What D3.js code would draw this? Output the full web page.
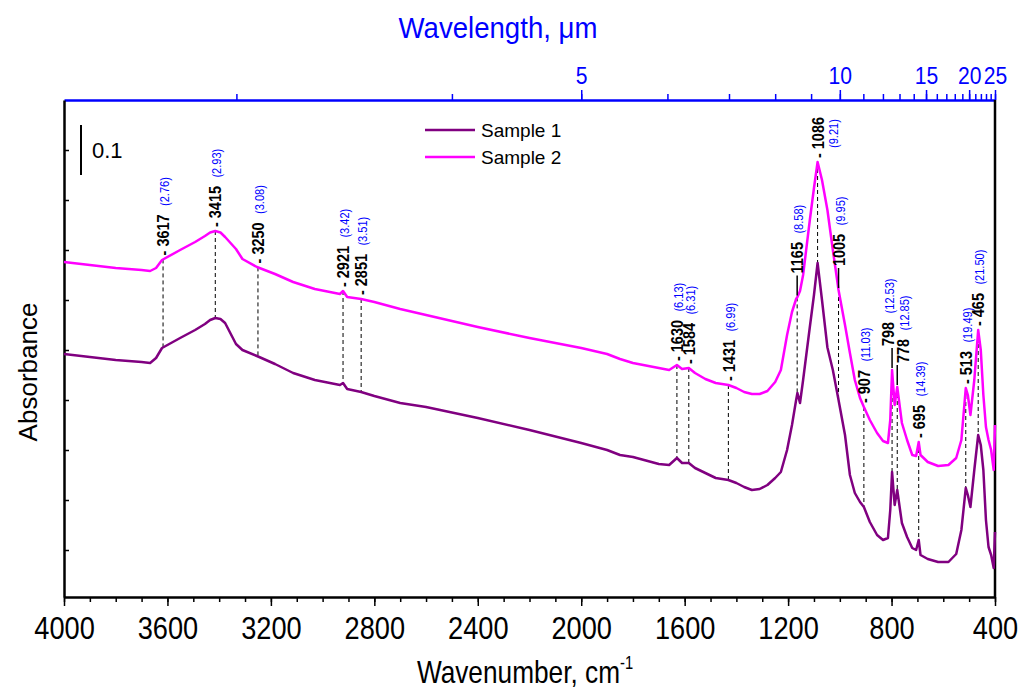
<!DOCTYPE html>
<html>
<head>
<meta charset="utf-8">
<script src="https://cdn.jsdelivr.net/npm/d3@7"></script>
<style>
  body { margin: 0; background: #fff; }
  text { font-family: "Liberation Sans", Arial, sans-serif; }
</style>
</head>
<body>
<svg id="chart" width="1019" height="690"></svg>
<script>
// ---- data ----
var wavenumbers = [4000, 3900, 3800, 3700, 3667, 3644, 3621, 3551, 3493, 3455, 3435, 3415, 3395, 3377, 3335, 3310, 3254, 3184, 3114, 3030, 2933, 2921, 2905, 2851, 2800, 2700, 2600, 2400, 2200, 2000, 1900, 1850, 1800, 1700, 1660, 1630, 1610, 1584, 1560, 1520, 1480, 1431, 1400, 1370, 1340, 1310, 1280, 1250, 1228, 1204, 1185, 1169, 1164, 1154, 1142, 1116, 1100, 1086, 1069, 1048, 1027, 1005, 980, 961, 942, 922, 907, 884, 856, 833, 814, 805, 798, 788, 778, 760, 740, 720, 705, 695, 688, 660, 620, 580, 550, 530, 513, 505, 495, 480, 465, 455, 445, 435, 425, 415, 405, 400];

var sample1 = [0.492, 0.486, 0.480, 0.476, 0.474, 0.484, 0.504, 0.524, 0.540, 0.552, 0.560, 0.564, 0.562, 0.554, 0.512, 0.500, 0.488, 0.472, 0.454, 0.440, 0.430, 0.434, 0.422, 0.416, 0.408, 0.394, 0.386, 0.364, 0.340, 0.314, 0.300, 0.290, 0.286, 0.272, 0.270, 0.284, 0.274, 0.274, 0.264, 0.254, 0.244, 0.240, 0.234, 0.226, 0.220, 0.222, 0.230, 0.244, 0.256, 0.300, 0.350, 0.400, 0.414, 0.394, 0.440, 0.546, 0.610, 0.674, 0.600, 0.505, 0.460, 0.400, 0.330, 0.250, 0.214, 0.196, 0.186, 0.156, 0.130, 0.120, 0.124, 0.180, 0.256, 0.190, 0.220, 0.154, 0.126, 0.104, 0.100, 0.120, 0.090, 0.082, 0.076, 0.076, 0.092, 0.140, 0.224, 0.210, 0.186, 0.260, 0.330, 0.310, 0.260, 0.160, 0.106, 0.090, 0.064, 0.136];

var sample2 = [0.676, 0.670, 0.664, 0.660, 0.658, 0.664, 0.680, 0.700, 0.716, 0.728, 0.735, 0.738, 0.735, 0.726, 0.702, 0.682, 0.666, 0.652, 0.636, 0.622, 0.612, 0.618, 0.606, 0.602, 0.596, 0.582, 0.570, 0.546, 0.524, 0.504, 0.492, 0.482, 0.474, 0.464, 0.460, 0.470, 0.462, 0.464, 0.454, 0.442, 0.434, 0.430, 0.424, 0.416, 0.412, 0.412, 0.418, 0.436, 0.460, 0.530, 0.576, 0.602, 0.606, 0.618, 0.650, 0.760, 0.824, 0.876, 0.840, 0.780, 0.700, 0.620, 0.550, 0.494, 0.440, 0.404, 0.386, 0.360, 0.334, 0.318, 0.314, 0.360, 0.460, 0.390, 0.426, 0.354, 0.320, 0.290, 0.288, 0.316, 0.290, 0.276, 0.268, 0.270, 0.284, 0.320, 0.424, 0.410, 0.370, 0.440, 0.540, 0.500, 0.410, 0.346, 0.320, 0.300, 0.260, 0.350];

var seriesNames = ["Sample 1", "Sample 2"];
var seriesColors = ["#800080", "#ff00ff"];

// peak labels: wavenumber and wavelength (µm)
var peakWn = [3617, 3415, 3250, 2921, 2851, 1630, 1584, 1431, 1165, 1086, 1005, 907, 798, 778, 695, 513, 465];
var peakUm = ["2.76", "2.93", "3.08", "3.42", "3.51", "6.13", "6.31", "6.99", "8.58", "9.21", "9.95", "11.03", "12.53", "12.85", "14.39", "19.49", "21.50"];
var longLeader = [1165, 1005, 798, 778];
var labelShift = {798: -4, 778: 6};

var bottomMajor = [4000, 3600, 3200, 2800, 2400, 2000, 1600, 1200, 800, 400];
var topMajorUm = [5, 10, 15, 20, 25];
var yTicks = [0.1, 0.2, 0.3, 0.4, 0.5, 0.6, 0.7, 0.8, 0.9];

// ---- layout ----
var margin = {top: 100, right: 24, bottom: 93, left: 64},
    width = 1019 - margin.left - margin.right,
    height = 690 - margin.top - margin.bottom;

var svg = d3.select("#chart");
var g = svg.append("g").attr("transform", "translate(" + margin.left + "," + margin.top + ")");

var x = d3.scaleLinear().domain([4000, 400]).range([0, width]);
var y = d3.scaleLinear().domain([0.006, 1.0]).range([height, 0]);

// interpolators to find curve heights at peak positions
var at1 = d3.scaleLinear().domain(wavenumbers).range(sample1);
var at2 = d3.scaleLinear().domain(wavenumbers).range(sample2);

// bottom axis - minor then major
var minorWn = d3.range(4000, 399, -100);
g.append("g")
  .attr("transform", "translate(0," + height + ")")
  .call(d3.axisBottom(x).tickValues(minorWn).tickSize(5).tickFormat(""))
  .call(function(a) { a.select(".domain").remove(); a.selectAll("line").attr("stroke-width", 1.5); });

var xAxis = g.append("g")
  .attr("transform", "translate(0," + height + ")")
  .call(d3.axisBottom(x).tickValues(bottomMajor).tickSize(9).tickSizeOuter(0).tickPadding(4)
    .tickFormat(d3.format("d")));
xAxis.select(".domain").attr("stroke-width", 2.5);
xAxis.selectAll(".tick line").attr("stroke-width", 1.5);
xAxis.selectAll(".tick text")
  .attr("font-size", 32)
  .attr("fill", "#000")
  .attr("transform", "scale(0.85,1)")
  .attr("dy", "0.92em");

// top axis (wavelength in µm), same positions via 10000/um
var minorUm = d3.range(3, 26);
g.append("g")
  .call(d3.axisTop(x).tickValues(minorUm.map(function(u) { return 10000 / u; })).tickSize(6).tickFormat("").tickSizeOuter(0))
  .call(function(a) {
    a.select(".domain").attr("stroke", "#0000ff").attr("stroke-width", 2.5);
    a.selectAll("line").attr("stroke", "#0000ff").attr("stroke-width", 1.5);
  });

var topAxis = g.append("g")
  .call(d3.axisTop(x).tickValues(topMajorUm.map(function(u) { return 10000 / u; }))
    .tickSize(10).tickSizeOuter(0).tickPadding(6)
    .tickFormat(function(w) { return Math.round(10000 / w); }));
topAxis.select(".domain").remove();
topAxis.selectAll("line").attr("stroke", "#0000ff").attr("stroke-width", 1.5);
topAxis.selectAll("text")
  .attr("fill", "#0000ff")
  .attr("font-size", 24)
  .attr("transform", "scale(0.88,1)");

// left axis: inward ticks, no labels
var yAxis = g.append("g")
  .call(d3.axisLeft(y).tickValues(yTicks).tickSize(-5).tickSizeOuter(0).tickFormat(""));
yAxis.select(".domain").attr("stroke-width", 2.5);
yAxis.selectAll("line").attr("stroke-width", 1.5);

// right frame
g.append("line")
  .attr("x1", width).attr("x2", width)
  .attr("y1", 0).attr("y2", height)
  .attr("stroke", "#000").attr("stroke-width", 2.5);

// dashed connectors between the two spectra
peakWn.forEach(function(wn) {
  g.append("line")
    .attr("x1", x(wn)).attr("x2", x(wn))
    .attr("y1", y(at2(wn))).attr("y2", y(at1(wn)))
    .attr("stroke", "#000")
    .attr("stroke-width", 1)
    .attr("stroke-dasharray", "4,3");
});

// spectra
var line = d3.line()
  .x(function(d) { return x(d[0]); })
  .y(function(d) { return y(d[1]); });

[sample1, sample2].forEach(function(s, i) {
  g.append("path")
    .datum(wavenumbers.map(function(w, j) { return [w, s[j]]; }))
    .attr("fill", "none")
    .attr("stroke", seriesColors[i])
    .attr("stroke-width", 2.5)
    .attr("stroke-linejoin", "round")
    .attr("d", line);
});

// peak labels (rotated, slightly condensed like the original)
peakWn.forEach(function(wn, i) {
  var px = x(wn) + (labelShift[wn] || 0);
  var yc = y(at2(wn));
  var isLong = longLeader.indexOf(wn) >= 0;
  var start = isLong ? yc - 24 : yc - 4;

  if (isLong) {
    g.append("line")
      .attr("x1", x(wn)).attr("x2", x(wn))
      .attr("y1", yc - 2).attr("y2", yc - 22)
      .attr("stroke", "#000").attr("stroke-width", 1.5);
  }

  var t = g.append("text")
    .attr("transform", "translate(" + px + "," + start + ") rotate(-90) scale(0.85,1)")
    .attr("font-size", 17)
    .attr("dy", "0.36em");
  t.append("tspan")
    .attr("font-weight", "bold")
    .text((isLong ? "" : "- ") + wn);

  if (wn === 1086) {
    // wavelength sits on a second line here
    g.append("text")
      .attr("transform", "translate(" + (px + 16) + "," + (start - 10) + ") rotate(-90) scale(0.85,1)")
      .attr("dy", "0.36em")
      .attr("font-size", 13)
      .attr("fill", "#0000ff")
      .text("(" + peakUm[i] + ")");
  } else {
    t.append("tspan")
      .attr("dx", 10)
      .attr("font-size", 13)
      .attr("fill", "#0000ff")
      .text("(" + peakUm[i] + ")");
  }
});

// 0.1 scale bar
g.append("line")
  .attr("x1", 17).attr("x2", 17)
  .attr("y1", y(0.95)).attr("y2", y(0.85))
  .attr("stroke", "#000").attr("stroke-width", 2);
g.append("text")
  .attr("x", 28).attr("y", y(0.9) + 8)
  .attr("font-size", 22)
  .text("0.1");

// legend
var legend = g.selectAll(".legend")
  .data(seriesNames)
  .enter().append("g")
  .attr("transform", function(d, i) { return "translate(" + 361 + "," + (30 + i * 27) + ")"; });
legend.append("line")
  .attr("x1", 0).attr("x2", 50)
  .attr("stroke", function(d, i) { return seriesColors[i]; })
  .attr("stroke-width", 2.5);
legend.append("text")
  .attr("x", 56).attr("dy", "0.35em")
  .attr("font-size", 19)
  .text(function(d) { return d; });

// axis titles
var xt = svg.append("text")
  .attr("x", 525).attr("y", 683)
  .attr("text-anchor", "middle")
  .attr("font-size", 32)
  .attr("transform", "translate(525,0) scale(0.82,1) translate(-525,0)");
xt.append("tspan").text("Wavenumber, cm");
xt.append("tspan").attr("font-size", 18).attr("dy", -14).text("-1");

svg.append("text")
  .attr("transform", "translate(37,372) rotate(-90)")
  .attr("text-anchor", "middle")
  .attr("font-size", 26)
  .text("Absorbance");

svg.append("text")
  .attr("x", 498).attr("y", 38)
  .attr("text-anchor", "middle")
  .attr("font-size", 30)
  .attr("fill", "#0000ff")
  .attr("transform", "translate(498,0) scale(0.92,1) translate(-498,0)")
  .text("Wavelength, \u03bcm");
</script>
</body>
</html>
